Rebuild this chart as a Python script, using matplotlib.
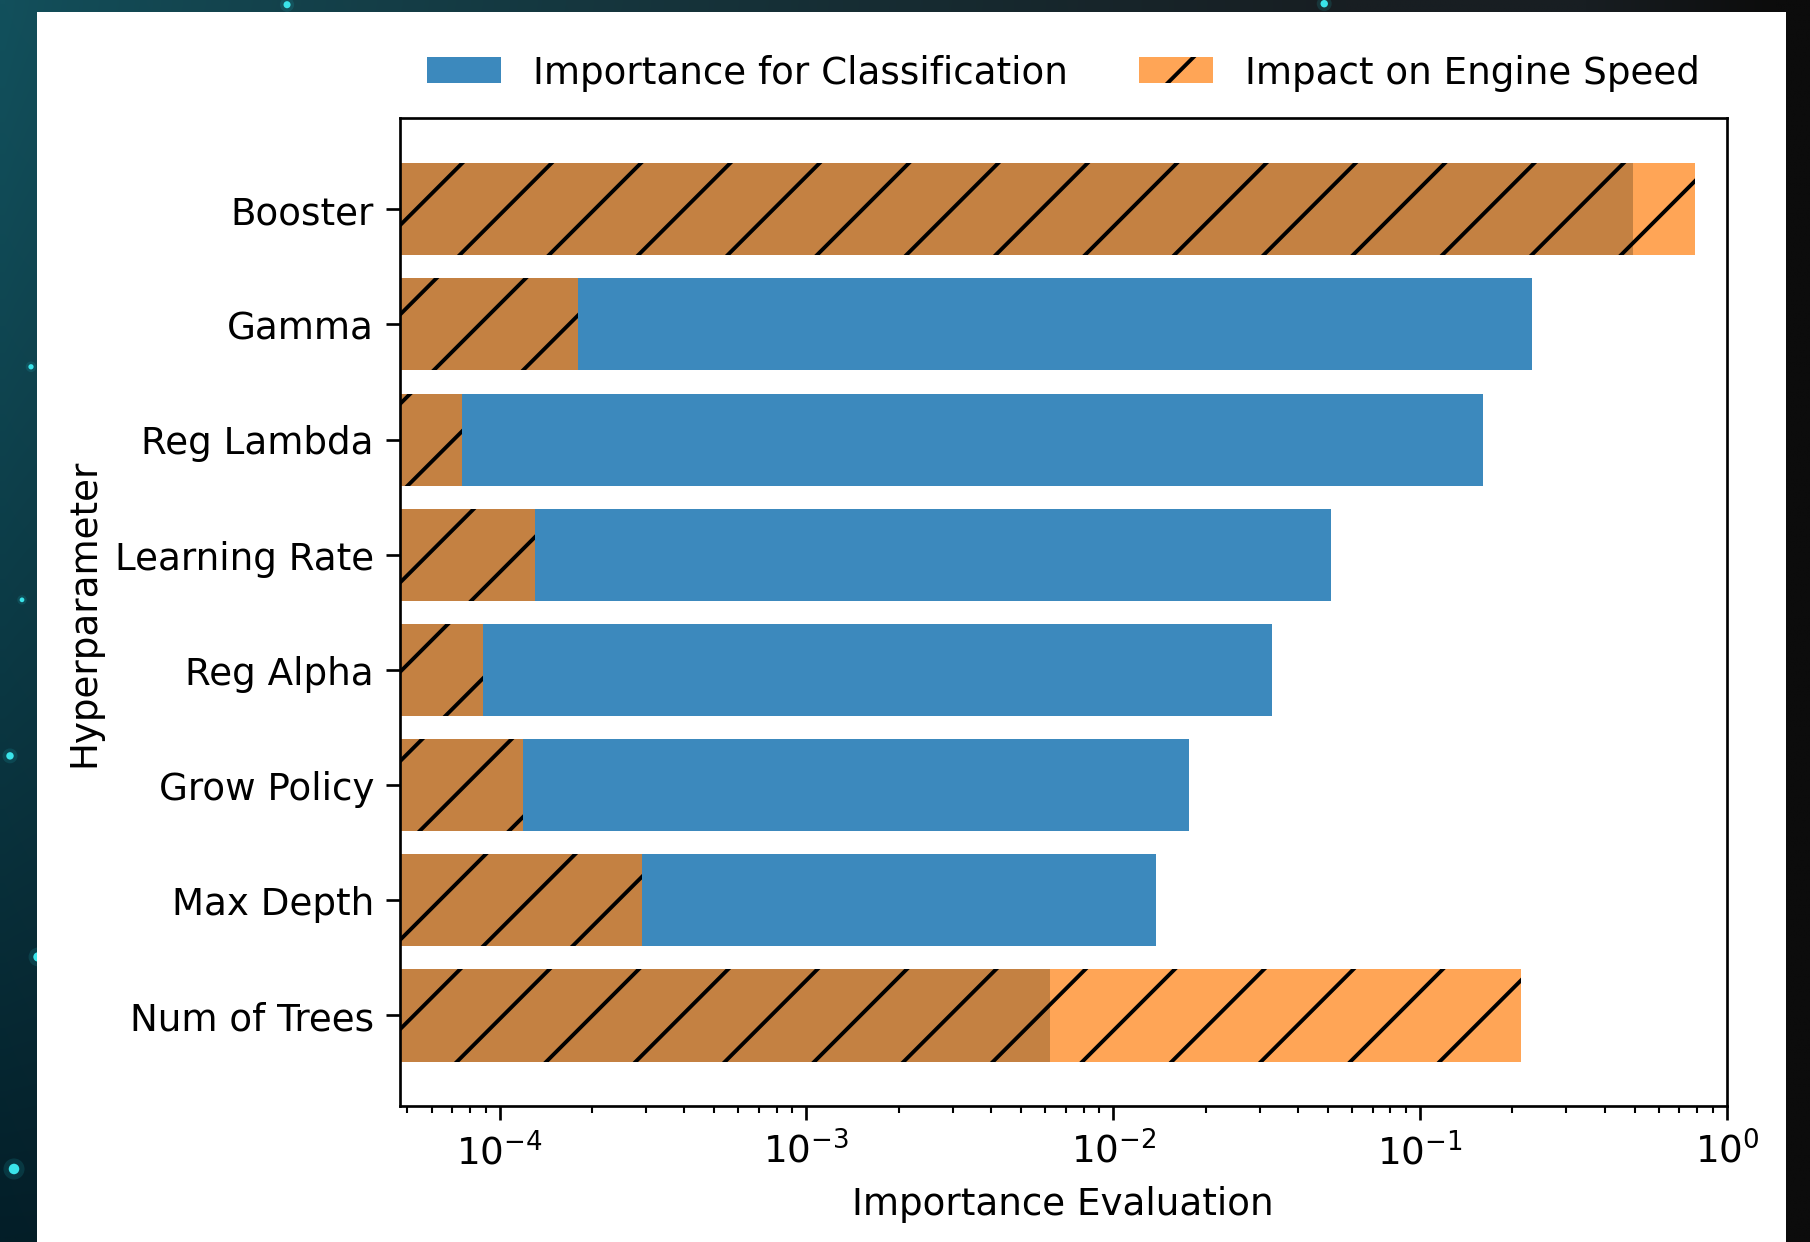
import numpy as np
import matplotlib
matplotlib.use("Agg")
import matplotlib.pyplot as plt
from matplotlib.patches import Rectangle, Patch

# Hyperparameters, listed bottom to top on the chart
hyperparameters = ["Num of Trees", "Max Depth", "Grow Policy", "Reg Alpha",
                   "Learning Rate", "Reg Lambda", "Gamma", "Booster"]
classification_importance = [0.00623, 0.0138, 0.0176, 0.0328,
                             0.0514, 0.160, 0.231, 0.493]
engine_speed_impact = [0.214, 2.91e-4, 1.19e-4, 8.83e-5,
                       1.30e-4, 7.52e-5, 1.80e-4, 0.790]
x_ticks = [1e-4, 1e-3, 1e-2, 1e-1, 1e0]
legend_labels = ["Importance for Classification", "Impact on Engine Speed"]

W, H, DPI = 1810, 1242, 536

plt.rcParams["font.family"] = ["DejaVu Sans"]
plt.rcParams["font.size"] = 5.0
plt.rcParams["hatch.linewidth"] = 0.52

fig = plt.figure(figsize=((W + 0.3) / DPI, (H + 0.3) / DPI), dpi=DPI)
fig.patch.set_facecolor("#111111")

# ---- dark starry backdrop behind a white panel ----
bg = fig.add_axes([0, 0, 1, 1], zorder=-10)
bg.set_axis_off()
gx = np.linspace(0, 1, 181)[None, :]
gy = np.linspace(0, 1, 125)[:, None]
teal = np.array([18, 80, 92]) / 255.0
deep = np.array([3, 30, 40]) / 255.0
dark = np.array([24, 30, 34]) / 255.0
black = np.array([12, 12, 12]) / 255.0
left_col = teal[None, None, :] * (1 - gy[..., None] ** 1.2) + deep[None, None, :] * gy[..., None] ** 1.2
wx = np.clip(gx * 1.35, 0, 1)[..., None] ** 0.8
img = left_col * (1 - wx) + dark[None, None, :] * wx
wx2 = np.clip((gx - 0.88) / 0.1, 0, 1)[..., None]
img = img * (1 - wx2) + black[None, None, :] * wx2
bg.imshow(img, extent=[0, W, H, 0], aspect="auto", interpolation="bilinear")
star_x = [10, 38, 14, 31, 287, 1324, 22]
star_y = [756, 957, 1169, 367, 5, 4, 600]
star_s = [1.0, 1.6, 2.0, 0.5, 0.9, 1.0, 0.4]
bg.scatter(star_x, star_y, s=[v * 4 for v in star_s], color="#20c0c8", alpha=0.15, lw=0)
bg.scatter(star_x, star_y, s=star_s, color="#3ae4ea", lw=0)
bg.set_xlim(0, W)
bg.set_ylim(H, 0)

fig.add_artist(Rectangle((37 / W, 0), (1786 - 37) / W, (H - 12) / H,
                         transform=fig.transFigure, facecolor="white",
                         edgecolor="none", zorder=-5))

# ---- main chart ----
ax = fig.add_axes([399.6 / W, 1 - 1106.5 / H, (1726.6 - 399.6) / W, (1106.5 - 118.5) / H])
ax.set_facecolor("white")

blue = (0x1f / 255, 0x77 / 255, 0xb4 / 255, 0.87)
orange = (1.0, 0x7f / 255, 0x0e / 255, 0.7)

ypos = np.arange(len(hyperparameters))
ax.barh(ypos, classification_importance, height=0.8, color=blue, linewidth=0)
ax.barh(ypos, engine_speed_impact, height=0.8, facecolor=orange,
        edgecolor="black", linewidth=0, hatch="//")

ax.set_xscale("log")
ax.set_xlim(4.72e-5, 1.0)
ax.set_xticks(x_ticks)
ax.set_yticks(ypos)
ax.set_yticklabels(hyperparameters)

for s in ax.spines.values():
    s.set_linewidth(0.36)
ax.tick_params(axis="both", which="major", length=1.85, width=0.36, pad=1.6)
ax.tick_params(axis="x", which="minor", length=0.95, width=0.28)

ax.set_xlabel("Importance Evaluation", labelpad=1.9)
ax.set_ylabel("Hyperparameter", labelpad=1.7)

handles = [Patch(facecolor=blue, linewidth=0),
           Patch(facecolor=orange, edgecolor="black", linewidth=0, hatch="//")]
fig.legend(handles, legend_labels, loc="center", ncol=2, frameon=False,
           bbox_to_anchor=(1063 / W, 1 - 73 / H), bbox_transform=fig.transFigure,
           handlelength=2.0, handleheight=0.7, handletextpad=0.85, columnspacing=1.9)

fig.savefig("out.png", dpi=DPI, facecolor=fig.get_facecolor())
